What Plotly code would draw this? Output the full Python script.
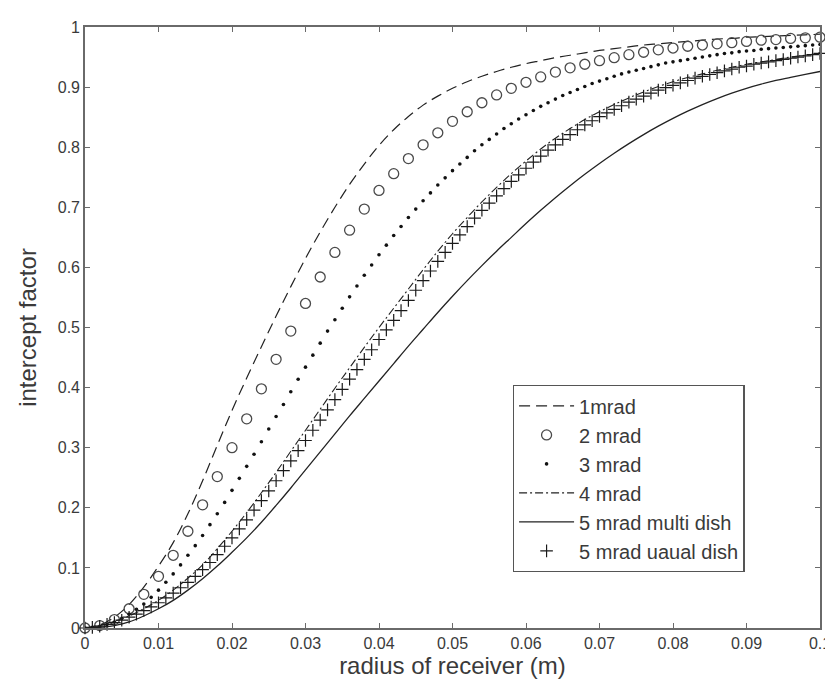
import plotly.graph_objects as go

# ---- data ----
X_COARSE = [0.000, 0.002, 0.004, 0.006, 0.008, 0.010, 0.012, 0.014, 0.016, 0.018,
            0.020, 0.022, 0.024, 0.026, 0.028, 0.030, 0.032, 0.034, 0.036, 0.038,
            0.040, 0.042, 0.044, 0.046, 0.048, 0.050, 0.052, 0.054, 0.056, 0.058,
            0.060, 0.062, 0.064, 0.066, 0.068, 0.070, 0.072, 0.074, 0.076, 0.078,
            0.080, 0.082, 0.084, 0.086, 0.088, 0.090, 0.092, 0.094, 0.096, 0.098, 0.100]

X_FINE = [0.000, 0.001, 0.002, 0.003, 0.004, 0.005, 0.006, 0.007, 0.008, 0.009,
          0.010, 0.011, 0.012, 0.013, 0.014, 0.015, 0.016, 0.017, 0.018, 0.019,
          0.020, 0.021, 0.022, 0.023, 0.024, 0.025, 0.026, 0.027, 0.028, 0.029,
          0.030, 0.031, 0.032, 0.033, 0.034, 0.035, 0.036, 0.037, 0.038, 0.039,
          0.040, 0.041, 0.042, 0.043, 0.044, 0.045, 0.046, 0.047, 0.048, 0.049,
          0.050, 0.051, 0.052, 0.053, 0.054, 0.055, 0.056, 0.057, 0.058, 0.059,
          0.060, 0.061, 0.062, 0.063, 0.064, 0.065, 0.066, 0.067, 0.068, 0.069,
          0.070, 0.071, 0.072, 0.073, 0.074, 0.075, 0.076, 0.077, 0.078, 0.079,
          0.080, 0.081, 0.082, 0.083, 0.084, 0.085, 0.086, 0.087, 0.088, 0.089,
          0.090, 0.091, 0.092, 0.093, 0.094, 0.095, 0.096, 0.097, 0.098, 0.099, 0.100]

MRAD1 = [0.000, 0.005, 0.018, 0.039, 0.068, 0.103, 0.142, 0.190, 0.245, 0.304,
         0.362, 0.416, 0.468, 0.519, 0.568, 0.615, 0.659, 0.700, 0.738, 0.772,
         0.803, 0.829, 0.851, 0.870, 0.885, 0.898, 0.909, 0.918, 0.926, 0.933,
         0.939, 0.944, 0.949, 0.953, 0.957, 0.961, 0.964, 0.967, 0.970, 0.972,
         0.974, 0.976, 0.978, 0.980, 0.981, 0.983, 0.984, 0.985, 0.986, 0.987, 0.988]

MRAD2 = [0.000, 0.004, 0.014, 0.032, 0.056, 0.086, 0.121, 0.161, 0.205, 0.252,
         0.300, 0.348, 0.398, 0.447, 0.494, 0.540, 0.584, 0.625, 0.662, 0.697,
         0.728, 0.756, 0.781, 0.804, 0.824, 0.843, 0.859, 0.874, 0.887, 0.898,
         0.908, 0.917, 0.925, 0.932, 0.938, 0.944, 0.949, 0.954, 0.958, 0.962,
         0.965, 0.968, 0.970, 0.972, 0.974, 0.976, 0.978, 0.979, 0.981, 0.982, 0.983]

MRAD3 = [0.000, 0.001, 0.003, 0.006, 0.010, 0.016, 0.023, 0.031, 0.040, 0.051,
         0.063, 0.076, 0.090, 0.105, 0.121, 0.137, 0.154, 0.172, 0.190, 0.209,
         0.229, 0.249, 0.269, 0.289, 0.310, 0.331, 0.352, 0.372, 0.393, 0.414,
         0.434, 0.454, 0.474, 0.494, 0.513, 0.532, 0.551, 0.569, 0.587, 0.604,
         0.621, 0.637, 0.653, 0.668, 0.683, 0.697, 0.711, 0.724, 0.737, 0.749,
         0.761, 0.772, 0.783, 0.794, 0.804, 0.813, 0.822, 0.831, 0.839, 0.847,
         0.854, 0.861, 0.868, 0.874, 0.880, 0.886, 0.891, 0.896, 0.901, 0.906,
         0.910, 0.914, 0.918, 0.922, 0.925, 0.928, 0.931, 0.934, 0.937, 0.940,
         0.942, 0.944, 0.946, 0.948, 0.950, 0.952, 0.954, 0.956, 0.957, 0.959,
         0.960, 0.961, 0.963, 0.964, 0.965, 0.966, 0.967, 0.968, 0.969, 0.970, 0.971]

MRAD4 = [0.000, 0.004, 0.011, 0.020, 0.032, 0.046, 0.063, 0.083, 0.105, 0.132,
         0.161, 0.192, 0.225, 0.259, 0.294, 0.329, 0.364, 0.399, 0.433, 0.467,
         0.500, 0.532, 0.564, 0.596, 0.627, 0.656, 0.683, 0.709, 0.733, 0.756,
         0.777, 0.797, 0.815, 0.831, 0.846, 0.859, 0.871, 0.882, 0.892, 0.901,
         0.909, 0.916, 0.922, 0.928, 0.933, 0.938, 0.942, 0.946, 0.950, 0.953, 0.957]

MRAD5_MULTI = [0.000, 0.001, 0.004, 0.010, 0.020, 0.032, 0.046, 0.063, 0.082, 0.103,
               0.126, 0.150, 0.176, 0.204, 0.233, 0.263, 0.293, 0.323, 0.353, 0.382,
               0.411, 0.440, 0.469, 0.497, 0.525, 0.552, 0.578, 0.603, 0.627, 0.650,
               0.673, 0.695, 0.716, 0.736, 0.755, 0.773, 0.790, 0.806, 0.821, 0.835,
               0.848, 0.860, 0.871, 0.881, 0.890, 0.898, 0.905, 0.911, 0.916, 0.921, 0.926]

MRAD5_USUAL = [0.000, 0.001, 0.003, 0.006, 0.009, 0.013, 0.018, 0.023, 0.029, 0.035,
               0.042, 0.050, 0.058, 0.067, 0.076, 0.086, 0.097, 0.109, 0.122, 0.136,
               0.150, 0.165, 0.180, 0.196, 0.212, 0.228, 0.245, 0.262, 0.278, 0.295,
               0.312, 0.329, 0.346, 0.363, 0.380, 0.397, 0.414, 0.430, 0.447, 0.463,
               0.480, 0.496, 0.512, 0.528, 0.545, 0.562, 0.578, 0.594, 0.610, 0.625,
               0.640, 0.654, 0.668, 0.682, 0.695, 0.707, 0.719, 0.731, 0.743, 0.754,
               0.765, 0.775, 0.785, 0.795, 0.804, 0.813, 0.821, 0.829, 0.837, 0.844,
               0.851, 0.857, 0.863, 0.869, 0.875, 0.880, 0.885, 0.890, 0.895, 0.899,
               0.903, 0.907, 0.911, 0.915, 0.918, 0.921, 0.924, 0.927, 0.930, 0.933,
               0.935, 0.938, 0.940, 0.942, 0.944, 0.946, 0.948, 0.950, 0.952, 0.954, 0.956]

X_TICKS = [0, 0.01, 0.02, 0.03, 0.04, 0.05, 0.06, 0.07, 0.08, 0.09, 0.1]
X_TICKTEXT = ["0", "0.01", "0.02", "0.03", "0.04", "0.05", "0.06", "0.07", "0.08", "0.09", "0.1"]
Y_TICKS = [0, 0.1, 0.2, 0.3, 0.4, 0.5, 0.6, 0.7, 0.8, 0.9, 1]
Y_TICKTEXT = ["0", "0.1", "0.2", "0.3", "0.4", "0.5", "0.6", "0.7", "0.8", "0.9", "1"]

NAMES = ["1mrad", "2 mrad", "3 mrad", "4 mrad", "5 mrad multi dish", "5 mrad uaual dish"]

FONT = "Liberation Sans, Arial, sans-serif"
TEXT_C = "#3a3a3a"
AXIS_C = "#6a6a6a"

fig = go.Figure()
fig.add_trace(go.Scatter(x=X_COARSE, y=MRAD1, mode="lines", name=NAMES[0],
                         line=dict(color="#222222", width=1.2, dash="11px,6px", shape="spline")))
fig.add_trace(go.Scatter(x=X_COARSE, y=MRAD2, mode="markers", name=NAMES[1], cliponaxis=False,
                         marker=dict(symbol="circle-open", size=10, color="#4a4a4a",
                                     line=dict(width=1.3, color="#4a4a4a"))))
fig.add_trace(go.Scatter(x=X_FINE, y=MRAD3, mode="markers", name=NAMES[2], cliponaxis=False,
                         marker=dict(symbol="circle", size=3.6, color="#111111")))
fig.add_trace(go.Scatter(x=X_COARSE, y=MRAD4, mode="lines", name=NAMES[3],
                         line=dict(color="#222222", width=1.1, dash="8px,3px,2px,3px", shape="spline")))
fig.add_trace(go.Scatter(x=X_COARSE, y=MRAD5_MULTI, mode="lines", name=NAMES[4],
                         line=dict(color="#222222", width=1.3, shape="spline")))
fig.add_trace(go.Scatter(x=X_FINE, y=MRAD5_USUAL, mode="markers", name=NAMES[5], cliponaxis=False,
                         marker=dict(symbol="cross-thin-open", size=9, color="#1a1a1a",
                                     line=dict(width=1.2, color="#1a1a1a"))))

axis_common = dict(
    showline=True, linecolor=AXIS_C, linewidth=1.6, mirror="ticks",
    ticks="inside", ticklen=5, tickwidth=1.2, tickcolor=AXIS_C,
    showgrid=False, zeroline=False,
    tickfont=dict(family=FONT, size=16, color=TEXT_C),
)

fig.update_xaxes(range=[0, 0.1], tickvals=X_TICKS, ticktext=X_TICKTEXT,
                 title=dict(text="radius of receiver (m)", font=dict(family=FONT, size=24, color=TEXT_C),
                            standoff=2),
                 **axis_common)
fig.update_yaxes(range=[0, 1], tickvals=Y_TICKS, ticktext=Y_TICKTEXT,
                 title=dict(text="intercept factor", font=dict(family=FONT, size=24, color=TEXT_C),
                            standoff=14),
                 **axis_common)

fig.update_layout(
    width=833, height=679,
    margin=dict(l=77, r=10, t=19, b=59),
    plot_bgcolor="white", paper_bgcolor="white",
    font=dict(family=FONT, color=TEXT_C),
    legend=dict(x=0.582, y=0.093, xanchor="left", yanchor="bottom",
                bgcolor="white", bordercolor="#555555", borderwidth=1.3,
                font=dict(family=FONT, size=20, color=TEXT_C),
                itemwidth=55, tracegroupgap=0),
    showlegend=True,
)

fig.write_html("out.html")
